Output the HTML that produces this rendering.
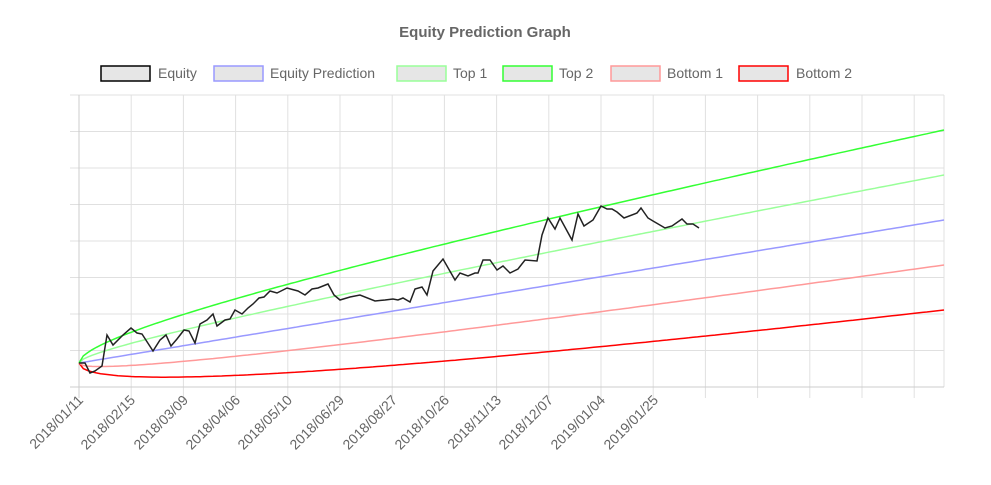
<!DOCTYPE html>
<html><head><meta charset="utf-8"><style>
body{margin:0;background:#fff;}
svg{display:block;font-family:"Liberation Sans",Arial,sans-serif;}
</style></head><body>
<svg id="s" width="991" height="485" viewBox="0 0 991 485">
<text x="485" y="37" text-anchor="middle" font-size="15" font-weight="bold" fill="#666">Equity Prediction Graph</text>
<g font-size="14" fill="#666">
<rect x="101" y="66" width="49" height="15" fill="#e6e6e6" stroke="#000" stroke-width="1.5"/><text x="158" y="78">Equity</text>
<rect x="214" y="66" width="49" height="15" fill="#e6e6e6" stroke="#99f" stroke-width="1.5"/><text x="270" y="78">Equity Prediction</text>
<rect x="397" y="66" width="49" height="15" fill="#e6e6e6" stroke="#9f9" stroke-width="1.5"/><text x="453" y="78">Top 1</text>
<rect x="503" y="66" width="49" height="15" fill="#e6e6e6" stroke="#3f3" stroke-width="1.5"/><text x="559" y="78">Top 2</text>
<rect x="611" y="66" width="49" height="15" fill="#e6e6e6" stroke="#f99" stroke-width="1.5"/><text x="667" y="78">Bottom 1</text>
<rect x="739" y="66" width="49" height="15" fill="#e6e6e6" stroke="#f00" stroke-width="1.5"/><text x="796" y="78">Bottom 2</text>
</g>
<g id="grid" stroke="#e0e0e0" stroke-width="1"></g>
<g id="lines" fill="none"></g>
<g font-size="14" fill="#666">
<text transform="translate(84,401) rotate(-45)" text-anchor="end">2018/01/11</text>
<text transform="translate(136,401) rotate(-45)" text-anchor="end">2018/02/15</text>
<text transform="translate(189,401) rotate(-45)" text-anchor="end">2018/03/09</text>
<text transform="translate(241,401) rotate(-45)" text-anchor="end">2018/04/06</text>
<text transform="translate(293,401) rotate(-45)" text-anchor="end">2018/05/10</text>
<text transform="translate(345,401) rotate(-45)" text-anchor="end">2018/06/29</text>
<text transform="translate(398,401) rotate(-45)" text-anchor="end">2018/08/27</text>
<text transform="translate(450,401) rotate(-45)" text-anchor="end">2018/10/26</text>
<text transform="translate(502,401) rotate(-45)" text-anchor="end">2018/11/13</text>
<text transform="translate(554,401) rotate(-45)" text-anchor="end">2018/12/07</text>
<text transform="translate(606,401) rotate(-45)" text-anchor="end">2019/01/04</text>
<text transform="translate(659,401) rotate(-45)" text-anchor="end">2019/01/25</text>
</g>
</svg>
<script>
var NS="http://www.w3.org/2000/svg";
function el(p,t,a){var e=document.createElementNS(NS,t);for(var k in a)e.setAttribute(k,a[k]);p.appendChild(e);return e;}
var g=document.getElementById("grid");
for(var i=0;i<=16;i++){var x=79+52.2*i;if(x>944)break;el(g,"line",{x1:x,x2:x,y1:95,y2:398});}
el(g,"line",{x1:944,x2:944,y1:95,y2:387});
for(var j=0;j<=8;j++){var y=95+36.5*j;el(g,"line",{x1:70,x2:944,y1:y,y2:y,stroke:j==8?"#ccc":"#e0e0e0"});}
el(g,"line",{x1:79,x2:79,y1:95,y2:398,stroke:"#ccc"});
var L=document.getElementById("lines");
var specs=[[2,"#f00"],[1,"#f99"],[0,"#99f"],[-1,"#9f9"],[-2,"#3f3"]];
specs.forEach(function(s){var d="";for(var k=0;k<=200;k++){var t=k/200;var x=79+865*t;var y=363-143*t+s[0]*45*Math.sqrt(t)+(s[0]>0?0:0);d+=(k?"L":"M")+x.toFixed(1)+" "+y.toFixed(1);}el(L,"path",{d:d,stroke:s[1],"stroke-width":1.5});});
var p=[[79,363],[85,363],[90,373],[95,371],[102,366],[107,335],[113,345],[123,335],[131,328],[137,333],[142,334],[153,351],[160,340],[166,335],[171,346],[177,339],[184,330],[189,331],[195,343],[200,324],[207,320],[213,314],[217,326],[225,320],[230,319],[235,310],[242,314],[248,308],[253,304],[259,298],[264,297],[270,291],[277,293],[287,288],[298,291],[305,295],[312,289],[318,288],[328,284],[334,295],[340,300],[350,297],[360,295],[375,301],[385,300],[393,299],[398,300],[403,298],[410,302],[415,289],[422,287],[427,295],[433,271],[443,259],[455,280],[460,273],[468,276],[475,273],[478,273],[483,260],[490,260],[497,270],[503,266],[510,273],[518,269],[525,260],[537,261],[542,235],[548,218],[555,229],[560,218],[572,240],[578,214],[584,226],[593,220],[601,206],[607,209],[612,209],[617,212],[624,218],[637,213],[641,208],[648,218],[653,221],[665,228],[672,226],[682,219],[687,224],[693,224],[699,228]];
el(L,"path",{d:"M"+p.map(function(a){return a.join(" ")}).join("L"),stroke:"#222","stroke-width":1.5});
</script>
</body></html>
